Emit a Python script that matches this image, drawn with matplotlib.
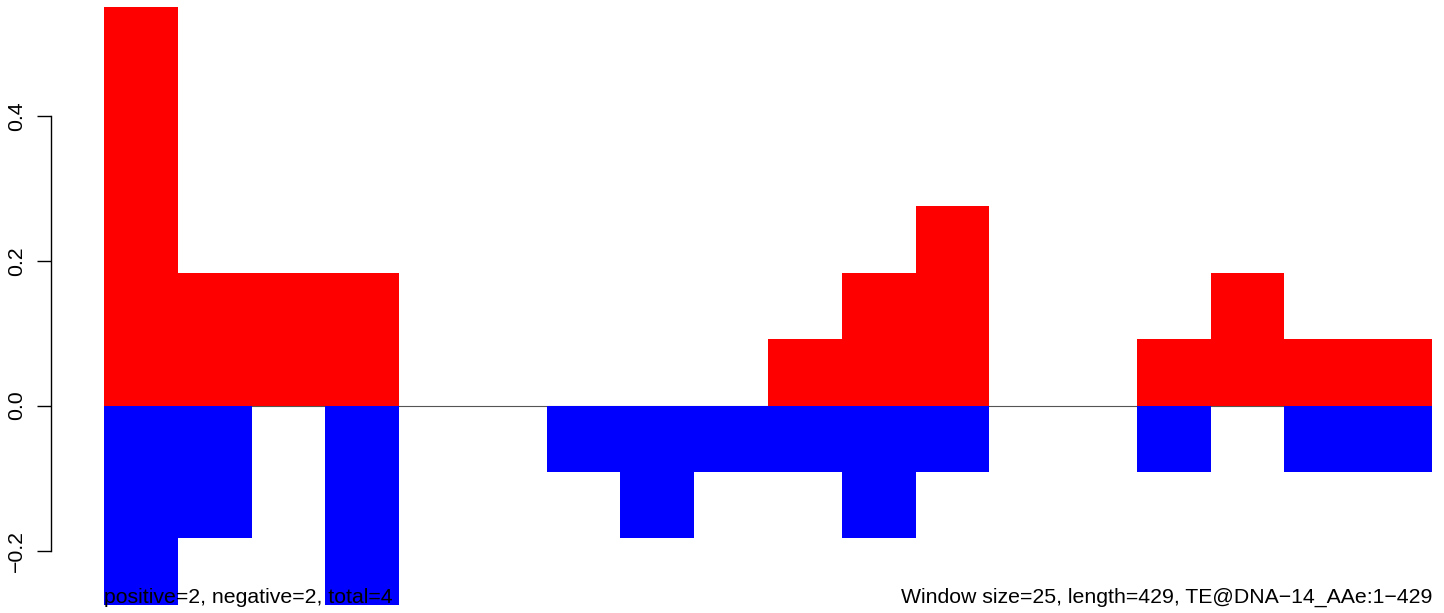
import matplotlib

matplotlib.use("Agg")

import matplotlib.pyplot as plt
import numpy as np

plt.rcParams["font.family"] = ["Liberation Sans", "DejaVu Sans"]

# sliding-window values (window size 25, 18 windows over 429 bp)
positive = [0.55, 0.183, 0.183, 0.183, 0, 0, 0, 0, 0,
            0.092, 0.183, 0.275, 0, 0, 0.092, 0.183, 0.092, 0.092]
negative = [-0.275, -0.183, 0, -0.275, 0, 0, -0.092, -0.183, -0.092,
            -0.092, -0.183, -0.092, 0, 0, -0.092, 0, -0.092, -0.092]
yticks = [-0.2, 0.0, 0.2, 0.4]
left_note = "positive=2, negative=2, total=4"
right_note = "Window size=25, length=429, TE@DNA\u221214_AAe:1\u2212429"

W, H = 1444, 613
FS = 15.3
fig = plt.figure(figsize=(W / 100, H / 100), dpi=100)
ax = fig.add_axes([104 / W, (H - 605) / H, 1328 / W, 598 / H])

x = np.arange(len(positive))
ax.axhline(0, color="#555555", lw=0.8, zorder=1)
ax.bar(x, positive, width=1.0, align="edge", color="#ff0000", linewidth=0, zorder=2)
ax.bar(x, negative, width=1.0, align="edge", color="#0000ff", linewidth=0, zorder=2)

ax.set_xlim(0, len(positive))
ax.set_ylim(min(negative), max(positive))

for side in ("top", "right", "bottom"):
    ax.spines[side].set_visible(False)
ax.spines["left"].set_position(("outward", 38))
ax.spines["left"].set_bounds(yticks[0], yticks[-1])
ax.spines["left"].set_linewidth(1.0)
ax.set_xticks([])
ax.set_yticks(yticks)
ax.set_yticklabels([f"{t:.1f}".replace("-", "\u2212") for t in yticks],
                   rotation=90, va="center", fontsize=FS)
ax.tick_params(axis="y", length=10, width=1.0, pad=8)

fig.text(104 / W, (H - 603) / H, left_note, ha="left", va="baseline", fontsize=FS)
fig.text(1432 / W, (H - 603) / H, right_note, ha="right", va="baseline", fontsize=FS)

fig.savefig("out.png", dpi=100)
